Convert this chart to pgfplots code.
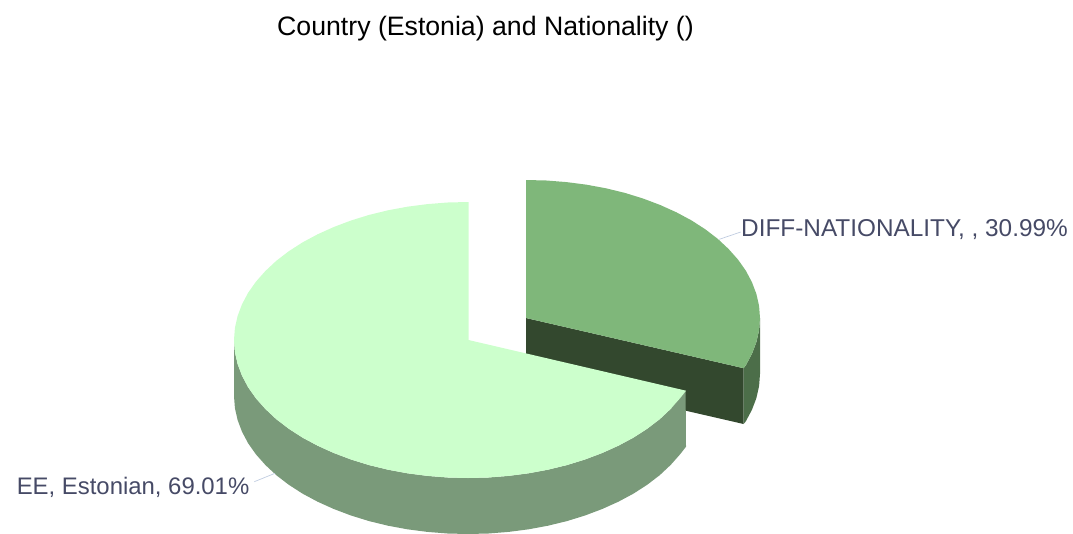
\documentclass[border=0pt]{standalone}
\usepackage{fontspec}
\setmainfont{Liberation Sans}
\usepackage{pgfplots}
\pgfplotsset{compat=1.18}
\definecolor{bigtop}{HTML}{CCFFCC}
\definecolor{bigside}{HTML}{7A9A7A}
\definecolor{smalltop}{HTML}{7FB77A}
\definecolor{smallwall}{HTML}{33482E}
\definecolor{smallside}{HTML}{4C6E49}
\definecolor{labeltext}{HTML}{464A66}
\definecolor{leader}{HTML}{C0CCE0}
\begin{document}
\begin{tikzpicture}
\begin{axis}[
  scale only axis, width=1073pt, height=533pt,
  xmin=0, xmax=1073, ymin=0, ymax=533, y dir=reverse,
  ticks=none, axis line style={draw=none}, clip=true]
% small slice: cut wall
\addplot[fill=smallwall, draw=none] coordinates {(526,318)(743.6,368.2)(743.6,424)(526,374)};
% small slice: outer side
\addplot[fill=smallside, draw=none] coordinates {(760,318)(760,374)(759.1,386)(756.4,398)(752,409.7)(745.9,421.2)(743.6,424)(743.6,368.2)(745.9,365.2)(752,353.7)(756.4,342)(759.1,330)};
% small slice: top
\addplot[fill=smalltop, draw=none] coordinates {(526,318)(526,180)(546.4,180.5)(566.6,182.1)(586.6,184.7)(606,188.3)(624.9,192.9)(643,198.5)(660.2,205)(676.4,212.3)(691.5,220.4)(705.3,229.3)(717.7,238.8)(728.6,249)(738.1,259.7)(745.9,270.8)(752,282.3)(756.4,294)(759.1,306)(760,318)(759.1,330)(756.4,342)(752,353.7)(745.9,365.2)(743.6,368.2)};
% big slice: side
\addplot[fill=bigside, draw=none] coordinates {(685.6,390.7)(680.1,398.3)(670.6,409)(659.7,419.2)(647.3,428.7)(633.5,437.6)(618.4,445.7)(602.2,453)(585,459.5)(566.9,465.1)(548,469.7)(528.6,473.3)(508.6,475.9)(488.4,477.5)(468,478)(447.6,477.5)(427.4,475.9)(407.4,473.3)(388,469.7)(369.1,465.1)(351,459.5)(333.8,453)(317.6,445.7)(302.5,437.6)(288.7,428.7)(276.3,419.2)(265.4,409)(255.9,398.3)(248.1,387.2)(242,375.7)(237.6,364)(234.9,352)(234,340)
(234,396)(234.9,408)(237.6,420)(242,431.7)(248.1,443.2)(255.9,454.3)(265.4,465)(276.3,475.2)(288.7,484.7)(302.5,493.6)(317.6,501.7)(333.8,509)(351,515.5)(369.1,521.1)(388,525.7)(407.4,529.3)(427.4,531.9)(447.6,533.5)(468,534)(488.4,533.5)(508.6,531.9)(528.6,529.3)(548,525.7)(566.9,521.1)(585,515.5)(602.2,509)(618.4,501.7)(633.5,493.6)(647.3,484.7)(659.7,475.2)(670.6,465)(680.1,454.3)(686,446.7)};
% big slice: top
\addplot[fill=bigtop, draw=none] coordinates {(468.5,340)(686,390.7)(680.1,398.3)(670.6,409)(659.7,419.2)(647.3,428.7)(633.5,437.6)(618.4,445.7)(602.2,453)(585,459.5)(566.9,465.1)(548,469.7)(528.6,473.3)(508.6,475.9)(488.4,477.5)(468,478)(447.6,477.5)(427.4,475.9)(407.4,473.3)(388,469.7)(369.1,465.1)(351,459.5)(333.8,453)(317.6,445.7)(302.5,437.6)(288.7,428.7)(276.3,419.2)(265.4,409)(255.9,398.3)(248.1,387.2)(242,375.7)(237.6,364)(234.9,352)(234,340)(234.9,328)(237.6,316)(242,304.3)(248.1,292.8)(255.9,281.7)(265.4,271)(276.3,260.8)(288.7,251.3)(302.5,242.4)(317.6,234.3)(333.8,227)(351,220.5)(369.1,214.9)(388,210.3)(407.4,206.7)(427.4,204.1)(447.6,202.5)(468.5,202)};
% leader lines
\addplot[leader, line width=0.7pt] coordinates {(719.3,239.3)(740.7,232)};
\addplot[leader, line width=0.7pt] coordinates {(254.3,481.7)(275,473.3)};
\node[anchor=center, text=black, font=\fontsize{26.67}{30}\selectfont] at (axis cs:485.5,28.5) {Country (Estonia) and Nationality ()};
\node[anchor=west, inner sep=0pt, text=labeltext, font=\fontsize{24.35}{28}\selectfont] at (axis cs:741,230) {DIFF-NATIONALITY, , 30.99\%};
\node[anchor=east, inner sep=0pt, text=labeltext, font=\fontsize{23.9}{28}\selectfont] at (axis cs:249.5,487) {EE, Estonian, 69.01\%};
\end{axis}
\end{tikzpicture}
\end{document}
